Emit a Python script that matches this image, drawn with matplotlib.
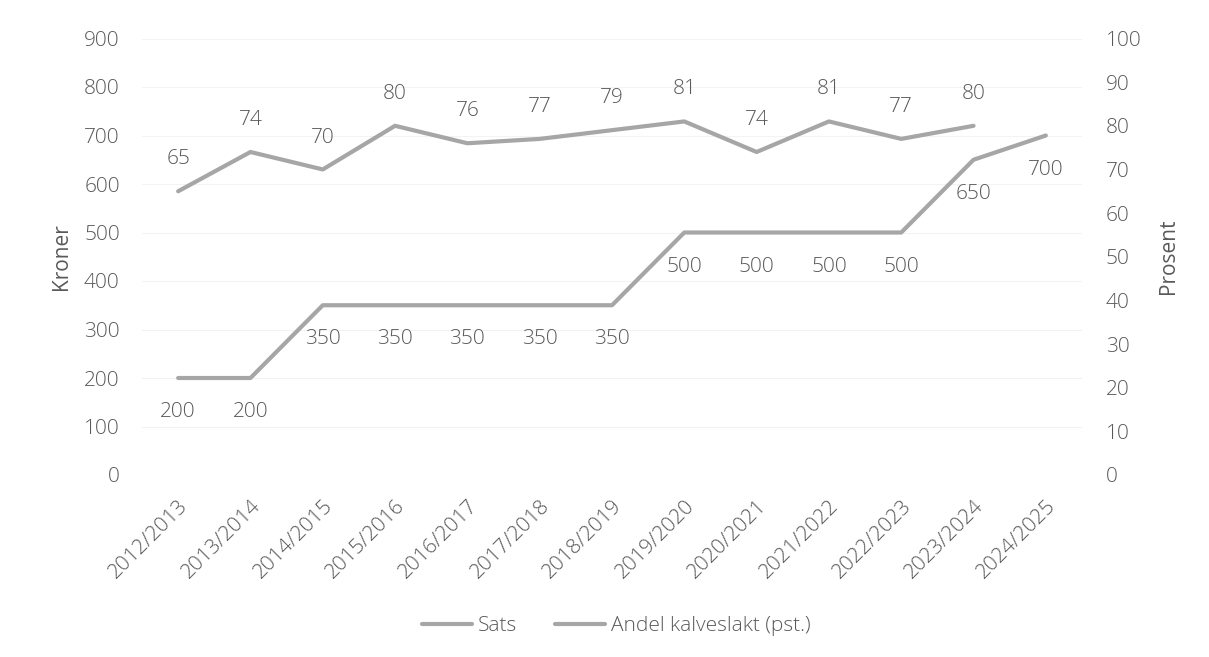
import matplotlib
matplotlib.use("Agg")
import matplotlib.pyplot as plt

categories = ["2012/2013", "2013/2014", "2014/2015", "2015/2016", "2016/2017", "2017/2018",
              "2018/2019", "2019/2020", "2020/2021", "2021/2022", "2022/2023", "2023/2024", "2024/2025"]
sats = [200, 200, 350, 350, 350, 350, 350, 500, 500, 500, 500, 650, 700]
andel = [65, 74, 70, 80, 76, 77, 79, 81, 74, 81, 77, 80]

plt.rcParams['font.family'] = ['Open Sans', 'DejaVu Sans']
plt.rcParams['font.weight'] = 'light'
txt = '#595959'
linec = '#a6a6a6'
FS = 15

fig = plt.figure(figsize=(12.09, 6.57), dpi=100)
ax = fig.add_axes([142/1209, 1 - 475/657, (1082-142)/1209, (475-38.5)/657])
ax2 = ax.twinx()

x = list(range(len(categories)))
ax.plot(x, sats, color=linec, lw=3.0, solid_capstyle='round', solid_joinstyle='round', label='Sats')
ax2.plot(x[:len(andel)], andel, color=linec, lw=3.0, solid_capstyle='round', solid_joinstyle='round',
         label='Andel kalveslakt (pst.)')

ax.set_xlim(-0.5, len(categories) - 0.5)
ax.set_ylim(0, 900)
ax2.set_ylim(0, 100)
ax.set_yticks(range(0, 901, 100))
ax2.set_yticks(range(0, 101, 10))
ax.grid(axis='y', color='#f3f3f3', lw=0.8)
ax.set_axisbelow(True)

for a in (ax, ax2):
    for s in a.spines.values():
        s.set_visible(False)
    a.tick_params(length=0, labelsize=FS, labelcolor=txt)
ax.tick_params(axis='y', pad=16)
ax2.tick_params(axis='y', pad=17)

ax.set_xticks(x)
ax.set_xticklabels(categories, rotation=45, ha='right', rotation_mode='anchor', fontsize=FS, color=txt)
ax.tick_params(axis='x', pad=15)

ax.set_ylabel('Kroner', fontsize=FS, color=txt, labelpad=9)
ax2.set_ylabel('Prosent', fontsize=FS, color=txt, labelpad=12)

for xi, v in zip(x, sats):
    ax.annotate(str(v), (xi, v), xytext=(0, -24.5), textcoords='offset points', ha='center', va='center',
                fontsize=FS, color=txt)
for xi, v in zip(x, andel):
    ax2.annotate(str(v), (xi, v), xytext=(0, 23), textcoords='offset points', ha='center', va='center',
                 fontsize=FS, color=txt)

h1, l1 = ax.get_legend_handles_labels()
h2, l2 = ax2.get_legend_handles_labels()
fig.legend(h1 + h2, l1 + l2, loc='center', bbox_to_anchor=(616/1209, 1 - 626/657), ncol=2, frameon=False,
           fontsize=FS, labelcolor=txt, handlelength=2.4, handletextpad=0.3, columnspacing=1.8)

fig.savefig('out.png', dpi=100, facecolor='white')
